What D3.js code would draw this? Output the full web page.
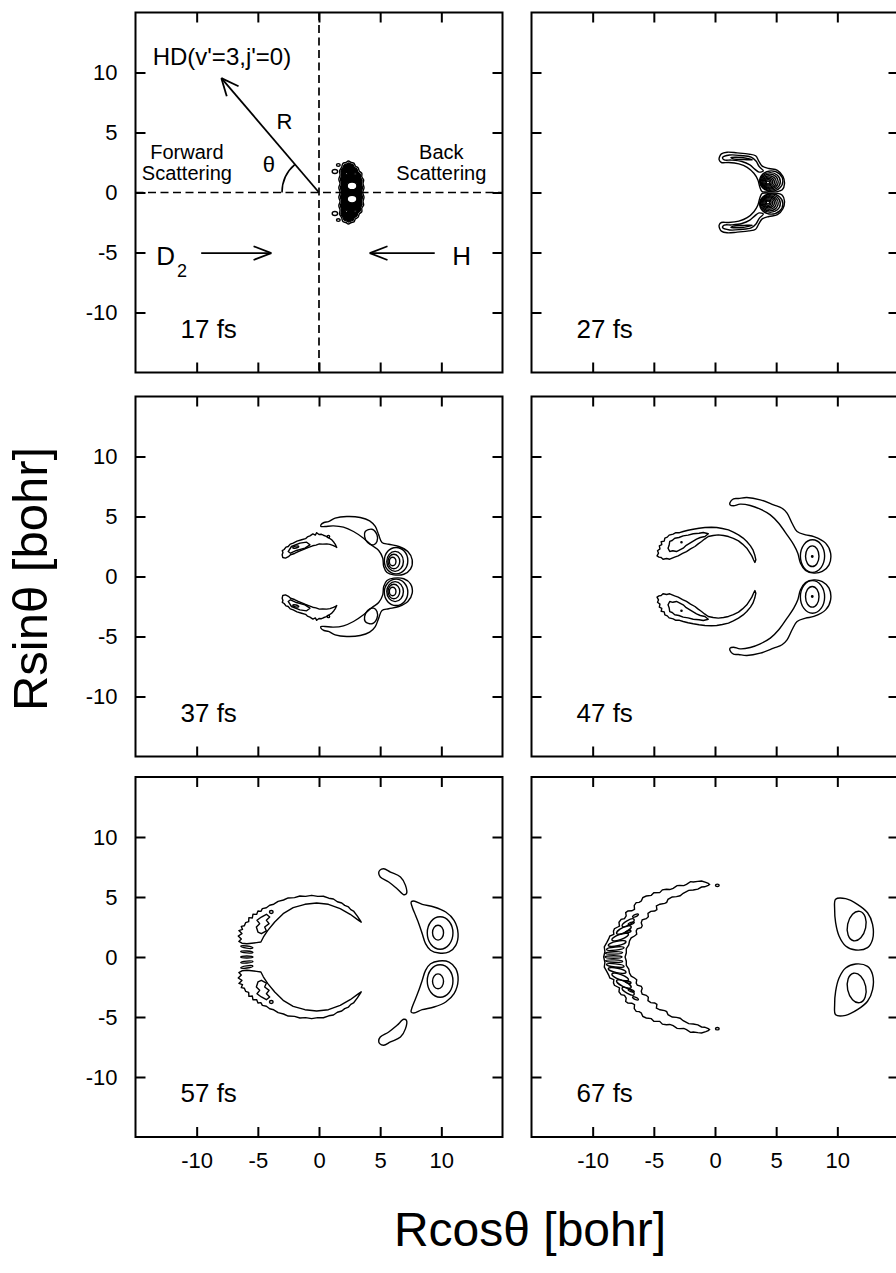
<!DOCTYPE html>
<html><head><meta charset="utf-8">
<script src="https://cdn.jsdelivr.net/npm/d3@7"></script>
<style>
body{margin:0;background:#fff;}
svg{display:block;font-family:"Liberation Sans",Arial,Helvetica,sans-serif;}
</style></head><body>
<svg id="chart" width="896" height="1273"></svg>
<script>
// ---------------- data (bohr) ----------------
const xTicks = [-10, -5, 0, 5, 10];
const xTickLabels = ["-10", "-5", "0", "5", "10"];
const yTicks = [-10, -5, 0, 5, 10];
const yTickLabels = ["-10", "-5", "0", "5", "10"];
const timeLabels = ["17 fs", "27 fs", "37 fs", "47 fs", "57 fs", "67 fs"];

// 17 fs : dense blob (upper half, axis to axis)
const c17Outer = [[1.72,0],[1.62,0.4],[1.72,0.75],[1.62,1.1],[1.72,1.45],[1.68,1.8],[1.85,2.1],[1.95,2.42],[2.2,2.5],[2.4,2.62],[2.65,2.5],[2.85,2.45],[2.98,2.2],[3.2,2.05],[3.3,1.78],[3.5,1.6],[3.5,1.3],[3.65,1.05],[3.6,0.75],[3.68,0.4],[3.58,0]];
const c17Core = [[1.84,0],[1.76,0.4],[1.84,0.75],[1.76,1.1],[1.84,1.45],[1.8,1.8],[1.95,2.05],[2.06,2.3],[2.25,2.36],[2.42,2.46],[2.62,2.36],[2.8,2.3],[2.88,2.1],[3.1,1.95],[3.18,1.7],[3.37,1.52],[3.38,1.25],[3.52,1.02],[3.47,0.75],[3.55,0.4],[3.46,0]];
const c17Holes = [[2.7,0.55,0.4,0.32,0],[2.25,1.6,0.1,0.09,0],[2.95,1.55,0.1,0.09,0]];
const c17Bubbles = [[1.3,1.75,0.22,0.17,0],[1.58,2.3,0.15,0.11,0]];

// 27 fs
const c27Arm = [[0.38,3.0],[0.52,3.22],[0.99,3.36],[1.81,3.3],[2.77,3.2],[3.32,3.06],[3.59,2.6],[3.86,2.2],[4.41,2.0],[5.1,1.85],[5.55,1.35],[5.68,0.72],[5.5,0.22],[5.1,0.07],[4.4,0.06],[3.86,0.07],[3.67,0.44],[3.5,1.06],[3.18,1.6],[2.63,2.1],[1.95,2.38],[1.12,2.5],[0.52,2.5],[0.34,2.72]];
const c27ArmInner = [[0.62,2.92],[1.2,3.12],[2.1,3.08],[2.95,2.95],[3.35,2.62],[3.62,2.15],[3.95,1.8],[3.6,1.7],[3.25,1.95],[2.85,2.3],[2.2,2.58],[1.35,2.7],[0.75,2.72]];
const c27ArmCore = [[1.3,2.9],[2.2,2.92],[3.05,2.72],[2.4,2.74],[1.5,2.8]];
const c27Rings = [[4.6,0.95,0.95,0.85,0],[4.52,0.92,0.82,0.74,0],[4.47,0.9,0.7,0.63,0],[4.43,0.88,0.58,0.52,0],[4.39,0.86,0.47,0.42,0],[4.36,0.85,0.36,0.32,0],[4.34,0.84,0.25,0.22,0],[4.33,0.83,0.14,0.12,0]];

// 37 fs
const c37Back = [[0.16,4.31],[0.41,4.5],[0.77,4.58],[1.32,4.86],[2.27,5.0],[3.37,4.92],[4.14,4.64],[4.6,4.17],[4.88,3.47],[5.15,2.83],[5.7,2.69],[6.52,2.5],[7.26,2.08],[7.62,1.39],[7.48,0.61],[6.93,0.19],[6.11,0.14],[5.56,0.33],[5.29,0.83],[5.21,1.53],[4.88,2.17],[4.33,2.58],[3.64,3.19],[2.82,3.75],[2.0,4.11],[1.18,4.22],[0.49,4.17],[0.16,4.17]];
const c37BackHole = [[3.78,3.75],[4.33,3.94],[4.74,3.47],[4.74,2.92],[4.47,2.64],[3.97,2.83],[3.73,3.33]];
const c37Rings = [[6.3,1.32,0.96,1.1,0],[6.22,1.26,0.68,0.83,0],[6.12,1.25,0.48,0.6,0],[6.02,1.25,0.27,0.35,0]];
const c37Fwd = [[-3.01,1.81],[-2.95,2.0],[-3.0,2.15],[-2.85,2.25],[-2.7,2.45],[-2.52,2.5],[-2.35,2.7],[-2.11,2.78],[-1.8,2.95],[-1.42,3.06],[-1.1,3.15],[-0.95,3.3],[-0.74,3.39],[-0.5,3.55],[-0.3,3.45],[-0.19,3.65],[0.0,3.5],[0.2,3.52],[0.36,3.44],[0.6,3.35],[0.85,3.19],[1.05,3.05],[1.23,2.83],[1.35,2.65],[1.45,2.42],[1.3,2.52],[1.18,2.58],[0.9,2.68],[0.63,2.72],[0.3,2.7],[0.03,2.72],[-0.25,2.62],[-0.52,2.56],[-0.85,2.42],[-1.15,2.31],[-1.4,2.2],[-1.7,2.08],[-2.0,1.92],[-2.33,1.81],[-2.5,1.65],[-2.74,1.53],[-2.96,1.58]];
const c37FwdInner = [[-2.52,2.08],[-2.25,2.5],[-1.56,2.78],[-1.01,2.86],[-0.74,2.64],[-1.15,2.36],[-1.84,2.17],[-2.33,1.94]];
const c37Specks = [[0.77,3.33,0.1,0.1,0],[-1.9,2.45,0.25,0.08,15]];

// 47 fs
const c47Back = [[1.23,6.17],[1.51,6.47],[1.92,6.5],[2.6,6.58],[3.7,6.39],[4.79,5.97],[5.48,5.69],[5.89,5.28],[6.3,4.44],[6.71,3.75],[7.4,3.47],[8.08,3.33],[9.04,2.78],[9.45,1.94],[9.32,0.97],[8.77,0.42],[8.08,0.28],[7.4,0.5],[6.99,1.11],[6.77,1.94],[6.44,2.64],[5.89,3.47],[5.21,4.44],[4.52,5.14],[3.7,5.61],[2.88,5.92],[2.05,6.03],[1.51,5.89],[1.23,5.97]];
const c47Rings = [[7.97,1.7,0.99,1.36,0],[7.95,1.69,0.55,0.86,0],[7.95,1.67,0.06,0.06,0]];
const c47Fwd = [[-4.74,1.72],[-4.62,1.95],[-4.7,2.15],[-4.5,2.3],[-4.55,2.55],[-4.35,2.65],[-4.4,2.9],[-4.15,2.95],[-4.1,3.2],[-3.9,3.28],[-3.75,3.45],[-3.42,3.53],[-3.2,3.65],[-2.9,3.65],[-2.6,3.75],[-2.2,3.85],[-1.78,3.94],[-1.3,4.02],[-0.82,4.08],[-0.3,4.1],[0.14,4.08],[0.6,4.0],[1.1,3.89],[1.5,3.7],[1.92,3.47],[2.3,3.2],[2.6,2.92],[2.9,2.55],[3.1,2.22],[3.25,1.8],[3.34,1.39],[3.26,1.17],[3.15,1.4],[3.01,1.72],[2.8,2.05],[2.6,2.36],[2.25,2.7],[1.92,2.97],[1.5,3.18],[1.1,3.33],[0.7,3.42],[0.27,3.47],[-0.15,3.42],[-0.55,3.33],[-0.85,3.12],[-1.1,2.92],[-1.4,2.7],[-1.64,2.5],[-2.0,2.3],[-2.33,2.08],[-2.65,1.92],[-3.01,1.72],[-3.3,1.62],[-3.7,1.44],[-3.95,1.5],[-4.25,1.44],[-4.4,1.58],[-4.58,1.61]];
const c47FwdInner = [[-3.84,2.36],[-3.75,2.6],[-3.7,2.92],[-3.5,3.0],[-3.29,3.19],[-2.95,3.25],[-2.6,3.39],[-2.2,3.45],[-1.78,3.56],[-1.3,3.6],[-0.96,3.67],[-0.55,3.56],[-0.82,3.33],[-1.2,3.25],[-1.51,3.11],[-2.05,2.78],[-2.35,2.6],[-2.6,2.36],[-3.15,2.08],[-3.45,2.15],[-3.7,2.08]];
const c47Specks = [[-2.74,2.86,0.05,0.05,0]];

// 57 fs
const c57Arc = [[3.42,2.97],[3.15,3.39],[2.82,3.83],[2.6,3.95],[2.41,4.17],[2.1,4.3],[1.86,4.5],[1.5,4.6],[1.18,4.83],[0.8,4.9],[0.36,5.06],[-0.1,5.05],[-0.6,5.14],[-1.1,5.05],[-1.56,5.08],[-2.0,4.95],[-2.52,4.92],[-2.9,4.75],[-3.34,4.64],[-3.7,4.4],[-4.03,4.31],[-4.3,4.1],[-4.63,4.03],[-4.75,3.8],[-4.99,3.83],[-5.1,3.55],[-5.4,3.56],[-5.45,3.25],[-5.73,3.28],[-5.75,2.95],[-6.0,2.86],[-6.1,2.6],[-6.35,2.55],[-6.25,2.3],[-6.55,2.2],[-6.3,1.95],[-6.6,1.75],[-6.35,1.5],[-6.55,1.3],[-6.3,1.15],[-5.9,1.1],[-5.5,1.15],[-5.1,1.2],[-4.75,1.25],[-4.55,1.65],[-4.2,2.2],[-3.62,2.92],[-2.93,3.61],[-2.11,4.11],[-1.15,4.39],[-0.19,4.5],[0.77,4.39],[1.73,4.03],[2.55,3.56],[3.15,3.11],[3.45,2.9]];
const c57Zig = [[-5.12,2.5],[-4.85,2.78],[-5.07,3.06],[-4.71,3.33],[-4.3,3.56],[-4.03,3.33],[-4.3,3.06],[-4.08,2.78],[-4.44,2.5],[-4.3,2.17],[-4.71,1.94],[-4.99,2.08]];
const c57Side = [[4.96,7.22],[5.29,7.36],[5.84,7.08],[6.66,6.67],[7.07,5.97],[7.15,5.28],[6.93,5.19],[6.38,5.69],[5.7,6.25],[5.01,6.67],[4.88,7.0]];
const c57Lobe = [[7.53,4.58],[7.75,4.67],[8.44,4.39],[9.4,4.17],[10.36,3.75],[11.04,3.06],[11.37,1.94],[11.18,0.97],[10.63,0.42],[9.81,0.33],[9.12,0.56],[8.71,1.11],[8.44,1.94],[8.16,2.78],[7.89,3.47],[7.62,4.17]];
const c57Rings = [[9.9,2.0,1.05,1.35,0],[9.73,2.03,0.45,0.62,0]];
const c57Dashes = [[-5.9,0.83,0.5,0.09,-8],[-5.9,0.42,0.5,0.08,-4]];
const c57AxisDashes = [[-5.9,0,0.5,0.08,0]];
const c57Specks = [[-3.9,3.75,0.15,0.12,0]];

// 67 fs (arc upper half, axis to axis)
const c67Arc = [[-9.1,0],[-9.0,0.45],[-9.05,0.85],[-8.85,1.2],[-8.68,1.53],[-8.6,1.75],[-8.27,1.89],[-8.3,2.15],[-8.22,2.36],[-7.95,2.5],[-7.81,2.58],[-7.85,2.9],[-7.67,3.14],[-7.4,3.2],[-7.26,3.42],[-7.3,3.7],[-7.12,3.83],[-6.8,3.85],[-6.58,3.97],[-6.6,4.3],[-6.44,4.53],[-6.2,4.55],[-6.03,4.67],[-5.9,4.95],[-5.62,5.08],[-5.21,5.14],[-5.0,5.35],[-4.52,5.36],[-4.3,5.6],[-3.97,5.64],[-3.7,5.62],[-3.42,5.72],[-3.1,5.95],[-2.88,5.97],[-2.55,5.95],[-2.33,6.06],[-2.0,6.28],[-1.78,6.25],[-1.4,6.3],[-1.1,6.33],[-0.75,6.22],[-0.55,6.14],[-0.45,6.05],[-0.55,5.97],[-0.85,5.85],[-1.1,5.83],[-1.4,5.65],[-1.78,5.58],[-2.15,5.55],[-2.6,5.31],[-2.85,5.1],[-3.15,5.03],[-3.5,5.0],[-3.84,4.81],[-3.95,4.55],[-4.11,4.47],[-4.5,4.4],[-4.79,4.25],[-4.75,3.95],[-4.93,3.83],[-5.25,3.8],[-5.48,3.64],[-5.45,3.35],[-5.62,3.19],[-5.95,3.1],[-6.03,2.86],[-5.95,2.6],[-6.03,2.44],[-6.35,2.35],[-6.44,2.17],[-6.4,1.9],[-6.58,1.75],[-6.85,1.6],[-6.99,1.33],[-7.05,1.0],[-7.25,0.7],[-7.25,0.35],[-7.35,0]];
const c67Fringes = [[-8.25,0.34,0.7,0.1,2],[-8.15,0.7,0.72,0.13,6],[-8.0,1.12,0.74,0.19,12],[-7.75,1.66,0.72,0.21,20],[-7.45,2.25,0.66,0.21,26],[-7.1,2.85,0.56,0.19,30]];
const c67AxisFringes = [[-8.3,0,0.7,0.1,0]];
const c67Specks = [[0.19,5.97,0.15,0.1,0],[-6.5,3.45,0.26,0.09,25],[-6.85,2.8,0.26,0.09,20],[-7.1,2.1,0.24,0.08,15]];
const c67Lobe = [[9.86,4.81],[10.68,4.86],[11.64,4.39],[12.47,3.69],[12.88,2.72],[12.88,1.47],[12.47,0.78],[11.51,0.58],[10.68,0.92],[10.14,1.75],[9.86,2.86],[9.78,3.97]];
const c67Rings = [[11.58,2.58,0.75,1.25,-12]];

// ---------------- layout ----------------
const W = 367, H = 360;
const colLeft = [135.5, 531.5];
const rowTop = [12.5, 396.5, 777];
const x = d3.scaleLinear().domain([-15, 15]).range([0, W]);
const y = d3.scaleLinear().domain([-15, 15]).range([H, 0]);
const LW = 1.4;

const mirror = pts => pts.map(([a, b]) => [a, -b]);
const mirrorClose = pts => pts.concat(mirror(pts).reverse().slice(1, -1));
const mirrorE = es => es.map(([a, b, c, d, e]) => [a, -b, c, d, -e]);

const smooth = d3.line().x(d => x(d[0])).y(d => y(d[1])).curve(d3.curveCatmullRomClosed.alpha(0.5));
const jag = d3.line().x(d => x(d[0])).y(d => y(d[1])).curve(d3.curveLinearClosed);

const panels = [
  { label: timeLabels[0], c: 0, r: 0,
    axisPaths: [{ pts: c17Outer, line: smooth }, { pts: c17Core, line: smooth, fill: "#000" }],
    symEll: c17Bubbles, holes: c17Holes },
  { label: timeLabels[1], c: 1, r: 0,
    symPaths: [{ pts: c27Arm, line: smooth }, { pts: c27ArmInner, line: smooth }, { pts: c27ArmCore, line: smooth }],
    symEll: c27Rings },
  { label: timeLabels[2], c: 0, r: 1,
    symPaths: [{ pts: c37Back, line: smooth }, { pts: c37BackHole, line: smooth }, { pts: c37Fwd, line: jag }, { pts: c37FwdInner, line: jag }],
    symEll: c37Rings.concat(c37Specks) },
  { label: timeLabels[3], c: 1, r: 1,
    symPaths: [{ pts: c47Back, line: smooth }, { pts: c47Fwd, line: jag }, { pts: c47FwdInner, line: jag }],
    symEll: c47Rings.concat(c47Specks) },
  { label: timeLabels[4], c: 0, r: 2,
    symPaths: [{ pts: c57Arc, line: jag }, { pts: c57Zig, line: jag }, { pts: c57Side, line: smooth }, { pts: c57Lobe, line: smooth }],
    symEll: c57Rings.concat(c57Dashes, c57Specks), axisEll: c57AxisDashes },
  { label: timeLabels[5], c: 1, r: 2,
    axisPaths: [{ pts: c67Arc, line: jag }],
    symPaths: [{ pts: c67Lobe, line: smooth }],
    symEll: c67Rings.concat(c67Fringes, c67Specks), axisEll: c67AxisFringes }
];

const svg = d3.select("#chart");
svg.append("rect").attr("width", 896).attr("height", 1273).attr("fill", "#fff");

function ell(g, e, fill) {
  const [cx, cy, rx, ry, ang] = e;
  g.append("ellipse")
    .attr("cx", x(cx)).attr("cy", y(cy))
    .attr("rx", x(rx) - x(0)).attr("ry", y(0) - y(ry))
    .attr("transform", `rotate(${-(ang || 0)},${x(cx)},${y(cy)})`)
    .attr("fill", fill || "none").attr("stroke", "#000").attr("stroke-width", LW);
}
function styleAxis(a) {
  a.select(".domain").remove();
  a.selectAll("line").attr("stroke", "#000").attr("stroke-width", 2);
  a.selectAll("text").attr("fill", "#000").style("font-size", "22px")
    .style("font-family", '"Liberation Sans",Arial,Helvetica,sans-serif');
  a.attr("font-family", null).attr("font-size", null);
}

panels.forEach(p => {
  const g = svg.append("g").attr("transform", `translate(${colLeft[p.c]},${rowTop[p.r]})`);
  const showY = p.c === 0, showX = p.r === 2;

  g.append("g").attr("transform", `translate(0,${H})`)
    .call(d3.axisBottom(x).tickValues(xTicks).tickSize(-10).tickSizeOuter(0).tickPadding(15)
      .tickFormat((d, i) => showX ? xTickLabels[i] : "")).call(styleAxis);
  g.append("g")
    .call(d3.axisTop(x).tickValues(xTicks).tickSize(-10).tickSizeOuter(0).tickFormat(() => "")).call(styleAxis);
  g.append("g")
    .call(d3.axisLeft(y).tickValues(yTicks).tickSize(-10).tickSizeOuter(0).tickPadding(18)
      .tickFormat((d, i) => showY ? yTickLabels[i] : "")).call(styleAxis);
  g.append("g").attr("transform", `translate(${W},0)`)
    .call(d3.axisRight(y).tickValues(yTicks).tickSize(-10).tickSizeOuter(0).tickFormat(() => "")).call(styleAxis);

  g.append("rect").attr("x", 0).attr("y", 0).attr("width", W).attr("height", H)
    .attr("fill", "none").attr("stroke", "#000").attr("stroke-width", 2);

  const cg = g.append("g");
  (p.axisPaths || []).forEach(s => {
    cg.append("path").attr("d", s.line(mirrorClose(s.pts)))
      .attr("fill", s.fill || "none").attr("stroke", "#000").attr("stroke-width", LW);
  });
  (p.symPaths || []).forEach(s => {
    [s.pts, mirror(s.pts)].forEach(pts => {
      cg.append("path").attr("d", s.line(pts))
        .attr("fill", s.fill || "none").attr("stroke", "#000").attr("stroke-width", LW)
        .attr("stroke-linejoin", "round");
    });
  });
  (p.symEll || []).forEach(e => { ell(cg, e); ell(cg, mirrorE([e])[0]); });
  (p.axisEll || []).forEach(e => ell(cg, e));
  (p.holes || []).forEach(e => { ell(cg, e, "#fff"); ell(cg, mirrorE([e])[0], "#fff"); });

  g.append("text").attr("x", 45).attr("y", 325).attr("fill", "#000")
    .style("font-size", "26px").text(p.label);

  if (p.c === 0 && p.r === 0) {
    const ag = g.append("g").attr("stroke", "#000").attr("fill", "none");
    ag.append("line").attr("x1", x(-15)).attr("x2", x(15)).attr("y1", y(0)).attr("y2", y(0))
      .attr("stroke-width", 1.7).attr("stroke-dasharray", "8,4.5");
    ag.append("line").attr("x1", x(0)).attr("x2", x(0)).attr("y1", y(15)).attr("y2", y(-15))
      .attr("stroke-width", 1.7).attr("stroke-dasharray", "8,4.5");
    function arrow(x1, y1, x2, y2, len, a) {
      ag.append("line").attr("x1", x1).attr("y1", y1).attr("x2", x2).attr("y2", y2).attr("stroke-width", 1.8);
      const ang = Math.atan2(y2 - y1, x2 - x1);
      [a, -a].forEach(da => {
        ag.append("line").attr("x1", x2).attr("y1", y2)
          .attr("x2", x2 - len * Math.cos(ang + da)).attr("y2", y2 - len * Math.sin(ang + da))
          .attr("stroke-width", 1.8);
      });
    }
    arrow(x(0), y(0), x(-7.98), y(9.53), 19, 0.42);
    arrow(x(-9.63), y(-5.05), x(-3.9), y(-5.05), 19, 0.37);
    arrow(x(9.46), y(-5.05), x(4.15), y(-5.05), 19, 0.37);
    const r = 37;
    const aEnd = Math.atan2(y(9.53) - y(0), x(-7.98) - x(0)) + 2 * Math.PI;
    const path = d3.path();
    path.arc(x(0), y(0), r, Math.PI, aEnd, false);
    ag.append("path").attr("d", path.toString()).attr("stroke-width", 1.6);

    const tg = g.append("g").attr("fill", "#000");
    tg.append("text").attr("x", x(-13.6)).attr("y", y(10.6)).style("font-size", "24px").text("HD(v'=3,j'=0)");
    tg.append("text").attr("x", x(-3.47)).attr("y", y(5.28)).style("font-size", "22px").text("R");
    tg.append("text").attr("x", x(-4.1)).attr("y", y(1.72)).attr("text-anchor", "middle").style("font-size", "22px").text("θ");
    tg.append("text").attr("x", x(-10.8)).attr("y", y(2.8)).attr("text-anchor", "middle").style("font-size", "20px").text("Forward");
    tg.append("text").attr("x", x(-10.8)).attr("y", y(1.05)).attr("text-anchor", "middle").style("font-size", "20px").text("Scattering");
    tg.append("text").attr("x", x(10.0)).attr("y", y(2.8)).attr("text-anchor", "middle").style("font-size", "20px").text("Back");
    tg.append("text").attr("x", x(10.0)).attr("y", y(1.05)).attr("text-anchor", "middle").style("font-size", "20px").text("Scattering");
    tg.append("text").attr("x", x(-13.3)).attr("y", y(-6.0)).style("font-size", "26px").text("D");
    tg.append("text").attr("x", x(-11.6)).attr("y", y(-7.0)).style("font-size", "18px").text("2");
    tg.append("text").attr("x", x(10.9)).attr("y", y(-6.0)).style("font-size", "26px").text("H");
  }
});

svg.append("text").attr("transform", "translate(47,579) rotate(-90)").attr("text-anchor", "middle")
  .attr("fill", "#000").style("font-size", "49px").text("Rsinθ [bohr]");
svg.append("text").attr("x", 530).attr("y", 1246).attr("text-anchor", "middle")
  .attr("fill", "#000").style("font-size", "48px").text("Rcosθ [bohr]");
</script></body></html>
